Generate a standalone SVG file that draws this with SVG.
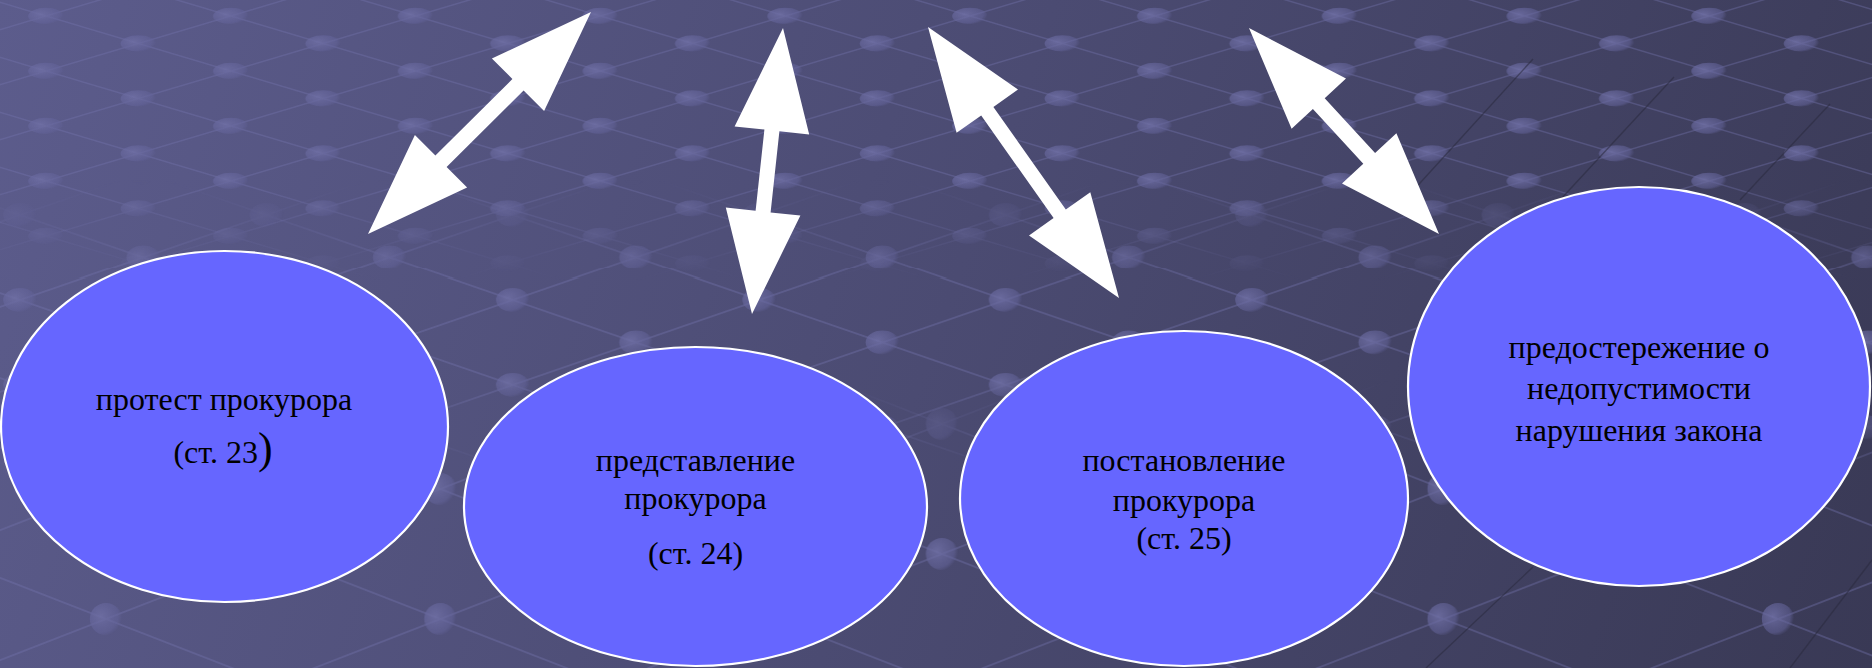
<svg xmlns="http://www.w3.org/2000/svg" width="1872" height="668" viewBox="0 0 1872 668">
<style>
.node{fill:#6666ff;stroke:#ffffff;stroke-width:2.2}
.t{font-family:"Liberation Serif","Times New Roman",serif;font-size:32px;fill:#000000;text-anchor:middle}
.arrow{fill:#ffffff;stroke:none}
.gl{stroke:#7474ac;opacity:0.4;fill:none}
.gd{fill:url(#dotg)}
.dk{stroke:#2a2a3e;stroke-width:1.4;opacity:0.55;fill:none}
</style>
<defs>
<linearGradient id="bg" x1="0" y1="0" x2="1872" y2="668" gradientUnits="userSpaceOnUse">
<stop offset="0" stop-color="#5c5c8c"/>
<stop offset="0.5" stop-color="#4b4b72"/>
<stop offset="1" stop-color="#393955"/>
</linearGradient>
<radialGradient id="dotg" cx="0.35" cy="0.4" r="0.65">
<stop offset="0" stop-color="#6f6fa4" stop-opacity="0.85"/>
<stop offset="0.8" stop-color="#64649a" stop-opacity="0.55"/>
<stop offset="1" stop-color="#64649a" stop-opacity="0"/>
</radialGradient>
<pattern id="gridS" patternUnits="userSpaceOnUse" width="176" height="50" patternTransform="translate(46,16) scale(1.05,1.1)">
<path class="gl" d="M0,0 L176,50 M0,50 L176,0" style="stroke-width:1.3"/>
<ellipse class="gd" cx="0" cy="0" rx="17" ry="7.5"/>
<ellipse class="gd" cx="176" cy="0" rx="17" ry="7.5"/>
<ellipse class="gd" cx="0" cy="50" rx="17" ry="7.5"/>
<ellipse class="gd" cx="176" cy="50" rx="17" ry="7.5"/>
<ellipse class="gd" cx="88" cy="25" rx="17" ry="7.5"/>
</pattern>
<pattern id="gridM" patternUnits="userSpaceOnUse" width="176" height="50" patternTransform="translate(20,300) scale(1.4,1.7)">
<path class="gl" d="M0,0 L176,50 M0,50 L176,0" style="stroke-width:1"/>
<ellipse class="gd" cx="0" cy="0" rx="12" ry="7"/>
<ellipse class="gd" cx="176" cy="0" rx="12" ry="7"/>
<ellipse class="gd" cx="0" cy="50" rx="12" ry="7"/>
<ellipse class="gd" cx="176" cy="50" rx="12" ry="7"/>
<ellipse class="gd" cx="88" cy="25" rx="12" ry="7"/>
</pattern>
<pattern id="gridL" patternUnits="userSpaceOnUse" width="176" height="50" patternTransform="translate(106,619) scale(1.9,2.6)">
<path class="gl" d="M0,0 L176,50 M0,50 L176,0" style="stroke-width:0.7"/>
<ellipse class="gd" cx="0" cy="0" rx="8.5" ry="6.2"/>
<ellipse class="gd" cx="176" cy="0" rx="8.5" ry="6.2"/>
<ellipse class="gd" cx="0" cy="50" rx="8.5" ry="6.2"/>
<ellipse class="gd" cx="176" cy="50" rx="8.5" ry="6.2"/>
<ellipse class="gd" cx="88" cy="25" rx="8.5" ry="6.2"/>
</pattern>
<linearGradient id="mgT" x1="0" y1="0" x2="0" y2="668" gradientUnits="userSpaceOnUse">
<stop offset="0.27" stop-color="#ffffff"/>
<stop offset="0.42" stop-color="#000000"/>
</linearGradient>
<linearGradient id="mgM" x1="0" y1="0" x2="0" y2="668" gradientUnits="userSpaceOnUse">
<stop offset="0.27" stop-color="#000000"/>
<stop offset="0.42" stop-color="#ffffff"/>
<stop offset="0.57" stop-color="#ffffff"/>
<stop offset="0.72" stop-color="#000000"/>
</linearGradient>
<linearGradient id="mgB" x1="0" y1="0" x2="0" y2="668" gradientUnits="userSpaceOnUse">
<stop offset="0.57" stop-color="#000000"/>
<stop offset="0.72" stop-color="#ffffff"/>
</linearGradient>
<mask id="mTop" maskUnits="userSpaceOnUse" x="0" y="0" width="1872" height="668">
<rect x="0" y="0" width="1872" height="668" fill="url(#mgT)"/>
</mask>
<mask id="mMid" maskUnits="userSpaceOnUse" x="0" y="0" width="1872" height="668">
<rect x="0" y="0" width="1872" height="668" fill="url(#mgM)"/>
</mask>
<mask id="mBot" maskUnits="userSpaceOnUse" x="0" y="0" width="1872" height="668">
<rect x="0" y="0" width="1872" height="668" fill="url(#mgB)"/>
</mask>
</defs>

<g id="background">
<rect x="0" y="0" width="1872" height="668" fill="url(#bg)"/>
<rect x="0" y="0" width="1872" height="668" fill="url(#gridS)" mask="url(#mTop)"/>
<rect x="0" y="0" width="1872" height="668" fill="url(#gridM)" mask="url(#mMid)"/>
<rect x="0" y="0" width="1872" height="668" fill="url(#gridL)" mask="url(#mBot)"/>
<path class="dk" d="M1533,59 L1400,205 M1674,77 L1560,200 M1830,104 L1740,200 M1533,567 L1426,668 M1872,560 L1790,668"/>
</g>

<g id="connectors">
<polygon class="arrow" points="368,234 414.9,135.1 435.4,155.6 512.4,79.0 491.9,58.5 591,12 544.1,110.9 523.6,90.4 446.6,167.0 467.1,187.5"/>
<polygon class="arrow" points="752,314 725.8,207.6 755.6,210.8 764.4,129.6 734.6,126.4 783,28 809.2,134.4 779.4,131.2 770.6,212.4 800.4,215.6"/>
<polygon class="arrow" points="928,27 1018.0,89.6 993.4,106.9 1065.8,209.5 1090.3,192.2 1119,298 1029.0,235.4 1053.6,218.1 981.2,115.5 956.6,132.8"/>
<polygon class="arrow" points="1249,28 1346.0,78.6 1324.7,98.3 1375.1,152.9 1396.4,133.2 1439,234 1342.0,183.4 1363.3,163.7 1312.9,109.1 1291.6,128.8"/>
</g>

<g id="node-protest">
<ellipse class="node" cx="224.5" cy="426.5" rx="223.5" ry="175.5"/>
<text class="t" x="224" y="410">протест прокурора</text>
<text class="t" x="223" y="463">(ст. 23<tspan style="font-size:44px">)</tspan></text>
</g>

<g id="node-predstavlenie">
<ellipse class="node" cx="695.5" cy="506.5" rx="231.5" ry="159.5"/>
<text class="t" x="695.5" y="471">представление</text>
<text class="t" x="695.5" y="509">прокурора</text>
<text class="t" x="695.5" y="564">(ст. 24)</text>
</g>

<g id="node-postanovlenie">
<ellipse class="node" cx="1184" cy="498.5" rx="224" ry="167.5"/>
<text class="t" x="1184" y="471">постановление</text>
<text class="t" x="1184" y="511">прокурора</text>
<text class="t" x="1184" y="549">(ст. 25)</text>
</g>

<g id="node-predosterezhenie">
<ellipse class="node" cx="1639" cy="386.5" rx="231" ry="199.5"/>
<text class="t" x="1639" y="358">предостережение о</text>
<text class="t" x="1639" y="399">недопустимости</text>
<text class="t" x="1639" y="441">нарушения закона</text>
</g>
</svg>
